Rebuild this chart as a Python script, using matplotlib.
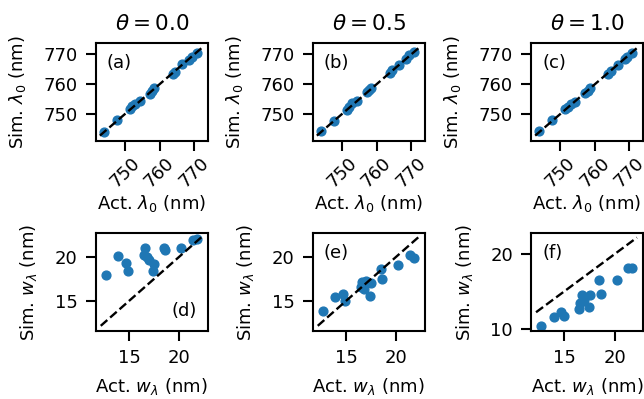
import matplotlib
matplotlib.use("Agg")
import matplotlib.pyplot as plt

plt.rcParams['font.size'] = 13
plt.rcParams['axes.linewidth'] = 1.5
plt.rcParams['xtick.major.size'] = 7
plt.rcParams['ytick.major.size'] = 7
plt.rcParams['xtick.major.width'] = 1.5
plt.rcParams['ytick.major.width'] = 1.5
plt.rcParams['xtick.major.pad'] = 6
plt.rcParams['ytick.major.pad'] = 6

thetas = [0.0, 0.5, 1.0]
letters_top = ['(a)', '(b)', '(c)']
letters_bot = ['(d)', '(e)', '(f)']

# actual peak wavelength (nm), shared by the top row
act_lam = [744.0, 747.8, 751.5, 752.2, 753.0, 754.3, 757.2, 757.9, 758.5,
           763.8, 764.6, 766.6, 768.6, 769.3, 770.8]
sim_lam_a = [744.1, 747.9, 751.8, 752.6, 753.3, 754.4, 756.9, 757.6, 758.6,
             763.6, 764.1, 766.9, 768.2, 769.1, 770.4]
sim_lam_b = [744.3, 747.8, 751.3, 752.4, 753.6, 754.5, 757.3, 758.2, 758.7,
             763.9, 764.8, 766.5, 768.5, 769.7, 770.7]
sim_lam_c = [744.2, 748.0, 751.6, 752.3, 753.4, 754.2, 757.0, 757.8, 758.9,
             763.5, 764.5, 766.3, 768.4, 769.2, 770.5]

# actual width (nm), shared by the bottom row
act_w = [12.7, 13.95, 14.7, 14.94, 16.5, 16.58, 16.8, 17.0, 17.4, 17.5,
         18.45, 18.6, 20.2, 21.3, 21.75]
sim_w_d = [17.9, 20.1, 19.3, 18.4, 20.2, 21.0, 19.9, 19.6, 18.4, 19.2,
           21.0, 20.7, 21.0, 21.85, 22.0]
sim_w_e = [13.85, 15.5, 15.8, 15.0, 16.6, 17.1, 16.4, 17.2, 15.6, 17.0,
           18.6, 17.5, 19.0, 20.2, 19.85]
sim_w_f = [10.4, 11.5, 12.3, 11.75, 12.6, 13.4, 14.5, 13.8, 12.95, 14.5,
           16.5, 14.7, 16.5, 18.1, 18.1]

lam_line = [742.8, 772.2]
w_line = [12.2, 22.2]

sim_lam = [sim_lam_a, sim_lam_b, sim_lam_c]
sim_w = [sim_w_d, sim_w_e, sim_w_f]

W, H = 644, 399
fig = plt.figure(figsize=(W / 100, H / 100), dpi=100)
lefts = [95.7, 312.7, 531.0]
aw, ah = 112.0, 97.6

for i in range(3):
    # top row: peak wavelength
    ax = fig.add_axes([lefts[i] / W, (H - 141.0) / H, aw / W, ah / H])
    ax.scatter(act_lam, sim_lam[i], color='C0', s=40)
    ax.plot(lam_line, lam_line, 'k--', lw=1.7)
    ax.set_xlim(741.6, 773.9)
    ax.set_ylim(741.0, 773.7)
    ax.set_xticks([750, 760, 770])
    ax.set_yticks([750, 760, 770])
    ax.tick_params(axis='x', labelrotation=45, pad=2)
    ax.set_xlabel(r'Act. $\lambda_0$ (nm)', labelpad=2)
    ax.set_ylabel(r'Sim. $\lambda_0$ (nm)', labelpad=11)
    ax.set_title(r'$\theta = %.1f$' % thetas[i], fontsize=15.5, pad=10)
    ax.text(0.1, 0.8, letters_top[i], transform=ax.transAxes,
            ha='left', va='center', fontsize=13)

    # bottom row: width
    ax = fig.add_axes([lefts[i] / W, (H - 330.7) / H, aw / W, ah / H])
    ax.scatter(act_w, sim_w[i], color='C0', s=40)
    ax.plot(w_line, w_line, 'k--', lw=1.7)
    ax.set_xlim(11.7, 22.8)
    ax.set_xticks([15, 20])
    if i == 2:
        ax.set_ylim(9.73, 22.8)
        ax.set_yticks([10, 20])
    else:
        ax.set_ylim(11.65, 22.64)
        ax.set_yticks([15, 20])
    ax.set_xlabel(r'Act. $w_\lambda$ (nm)', labelpad=7)
    ax.set_ylabel(r'Sim. $w_\lambda$ (nm)', labelpad=11)
    if i == 0:
        ax.text(0.9, 0.2, letters_bot[i], transform=ax.transAxes,
                ha='right', va='center', fontsize=13)
    else:
        ax.text(0.1, 0.8, letters_bot[i], transform=ax.transAxes,
                ha='left', va='center', fontsize=13)

fig.savefig('out.png', dpi=100)
